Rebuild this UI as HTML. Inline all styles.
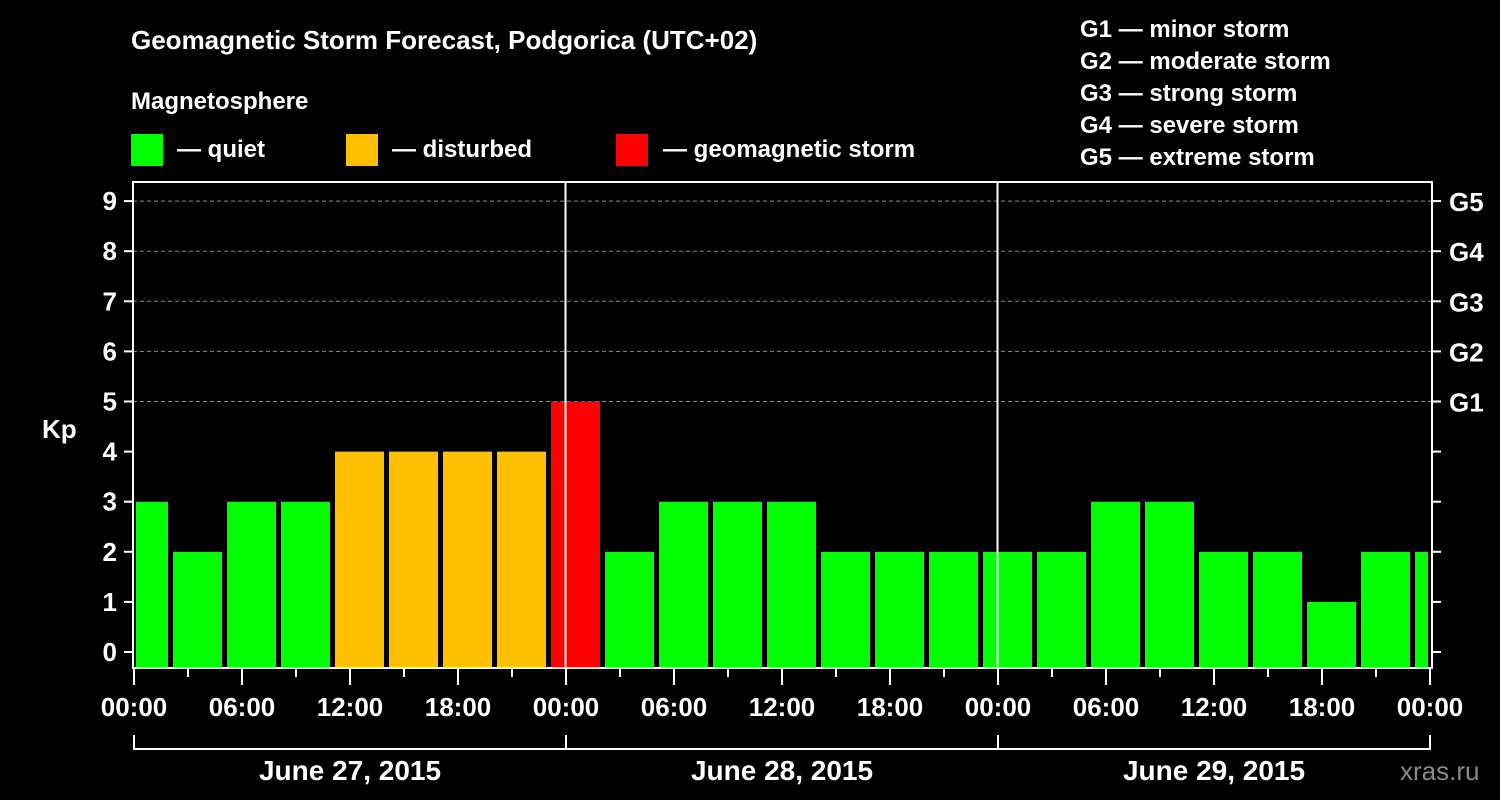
<!DOCTYPE html>
<html><head><meta charset="utf-8"><style>
html,body{margin:0;padding:0;background:#000;}
svg{display:block;font-family:"Liberation Sans",Arial,sans-serif;font-weight:bold;}
</style></head><body>
<svg id="c" width="1500" height="800" viewBox="0 0 1500 800">
<rect x="0" y="0" width="1500" height="800" fill="#000"/>
<text x="131" y="49" fill="#fff" font-size="26">Geomagnetic Storm Forecast, Podgorica (UTC+02)</text>
<text x="131" y="109" fill="#fff" font-size="24">Magnetosphere</text>
<g><rect x="131" y="134" width="32" height="32" fill="#00ff00"/><text x="177" y="157" fill="#fff" font-size="24">— quiet</text></g>
<g><rect x="346" y="134" width="32" height="32" fill="#ffc000"/><text x="392" y="157" fill="#fff" font-size="24">— disturbed</text></g>
<g><rect x="616" y="134" width="32" height="32" fill="#ff0000"/><text x="663" y="157" fill="#fff" font-size="24">— geomagnetic storm</text></g>
<g fill="#fff" font-size="24">
<text x="1080" y="37">G1 — minor storm</text>
<text x="1080" y="69">G2 — moderate storm</text>
<text x="1080" y="101">G3 — strong storm</text>
<text x="1080" y="133">G4 — severe storm</text>
<text x="1080" y="165">G5 — extreme storm</text>
</g>
<text x="42" y="438" fill="#fff" font-size="26">Kp</text>
<text x="1400" y="780" fill="#888" font-size="26" font-weight="normal">xras.ru</text>
<g id="plot"></g>
</svg>
<script>
const kpValues=[3,2,3,3,4,4,4,4,5,2,3,3,3,2,2,2,2,2,3,3,2,2,1,2,2];
const startHour=-1;
const barHours=3;
const dayLabels=["June 27, 2015","June 28, 2015","June 29, 2015"];
const xTickLabels=["00:00","06:00","12:00","18:00","00:00","06:00","12:00","18:00","00:00","06:00","12:00","18:00","00:00"];
const yTicks=[0,1,2,3,4,5,6,7,8,9];
const gLabels={5:"G1",6:"G2",7:"G3",8:"G4",9:"G5"};

const NS="http://www.w3.org/2000/svg";
const L=133,R=1432,T=182,B=668;
const x=h=>134+h*18;
const y=k=>652-k*50.1;
const g=document.getElementById('plot');
function mk(tag,a,txt){const e=document.createElementNS(NS,tag);for(const k in a)e.setAttribute(k,a[k]);if(txt!=null)e.textContent=txt;g.appendChild(e);return e;}
// gridlines
yTicks.forEach(k=>{if(k>=5){const e=mk('line',{x1:L,x2:R,y1:y(k),y2:y(k),stroke:'#888','stroke-dasharray':'4,3','stroke-width':1});

}});
// bars
kpValues.forEach((v,i)=>{
 const h0=startHour+i*barHours,h1=h0+barHours;
 let x0=Math.max(x(h0)+3,L+3),x1=Math.min(x(h1)-2,R-4);
 const col=v>=5?'#ff0000':(v>=4?'#ffc000':'#00ff00');
 const e=mk('rect',{x:x0,y:y(v),width:x1-x0,height:B-y(v),fill:col});
 
 
});
// day separators
[24,48].forEach(h=>{const e=mk('line',{x1:x(h)-0.5,x2:x(h)-0.5,y1:T,y2:B,stroke:'#fff','stroke-width':2});

});
// frame
const fr=mk('rect',{x:L,y:T,width:R-L,height:B-T,fill:'none',stroke:'#fff','stroke-width':2});


// y ticks
yTicks.forEach(k=>{
 const t=mk('line',{x1:L-9,x2:L,y1:y(k),y2:y(k),stroke:'#fff','stroke-width':2});
 
 
 const lb=mk('text',{x:L-16,y:y(k)+9,'text-anchor':'end',fill:'#fff','font-size':26},String(k));
 
 
 const t2=mk('line',{x1:R,x2:R+9,y1:y(k),y2:y(k),stroke:'#fff','stroke-width':2});
 
 
 if(gLabels[k]){const gl=mk('text',{x:R+17,y:y(k)+10,fill:'#fff','font-size':26},gLabels[k]);
 
 }
});
// x ticks
for(let h=0;h<=72;h+=3){
 const big=h%6===0;
 const t=mk('line',{x1:x(h),x2:x(h),y1:B+1,y2:B+(big?17:9),stroke:'#fff','stroke-width':2});
 
 
}
xTickLabels.forEach((s,i)=>{
 const e=mk('text',{x:x(i*6),y:716,'text-anchor':'middle',fill:'#fff','font-size':26},s);
 
 
});
// day brackets
const br=mk('path',{d:`M${x(0)} 735 V749 H${x(72)} V735 M${x(24)} 735 V749 M${x(48)} 735 V749`,stroke:'#fff','stroke-width':2,fill:'none'});


dayLabels.forEach((s,i)=>{
 const e=mk('text',{x:x(i*24+12),y:780,'text-anchor':'middle',fill:'#fff','font-size':28},s);
 
 
});
</script>
</body></html>
